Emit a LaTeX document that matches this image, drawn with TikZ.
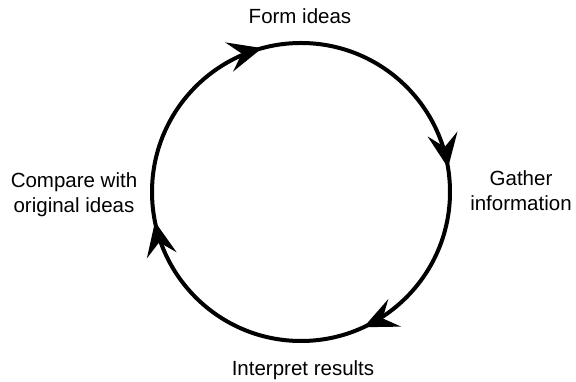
\documentclass[tikz,border=0pt]{standalone}
\usepackage{fontspec}
\setmainfont{Liberation Sans}
\usetikzlibrary{arrows.meta,decorations.markings}
\tikzset{
  cyclearrow/.style={line width=4pt,
    postaction={decorate},
    decoration={markings,
      mark=at position 0.224 with {\arrow{Stealth[length=34pt,width=30pt,inset=13pt]}},
      mark=at position 0.431 with {\arrow{Stealth[length=34pt,width=30pt,inset=13pt]}},
      mark=at position 0.718 with {\arrow{Stealth[length=34pt,width=30pt,inset=13pt]}},
      mark=at position 0.958 with {\arrow{Stealth[length=34pt,width=30pt,inset=13pt]}}}},
  steplabel/.style={align=center, font=\fontsize{20.5}{25}\selectfont}
}
\begin{document}
\begin{tikzpicture}[x=1pt,y=1pt]
\useasboundingbox (0,0) rectangle (576,382);
\coordinate (centre) at (301,190);
\draw[cyclearrow] (centre) ++(90:149) arc[start angle=90, end angle=-270, radius=149];
\node[steplabel] (form) at (300,366) {Form ideas};
\node[steplabel] (gather) at (521,191) {Gather\\information};
\node[steplabel] (interpret) at (303,12) {Interpret results};
\node[steplabel] (compare) at (74,187) {Compare with\\original ideas};
\end{tikzpicture}
\end{document}
